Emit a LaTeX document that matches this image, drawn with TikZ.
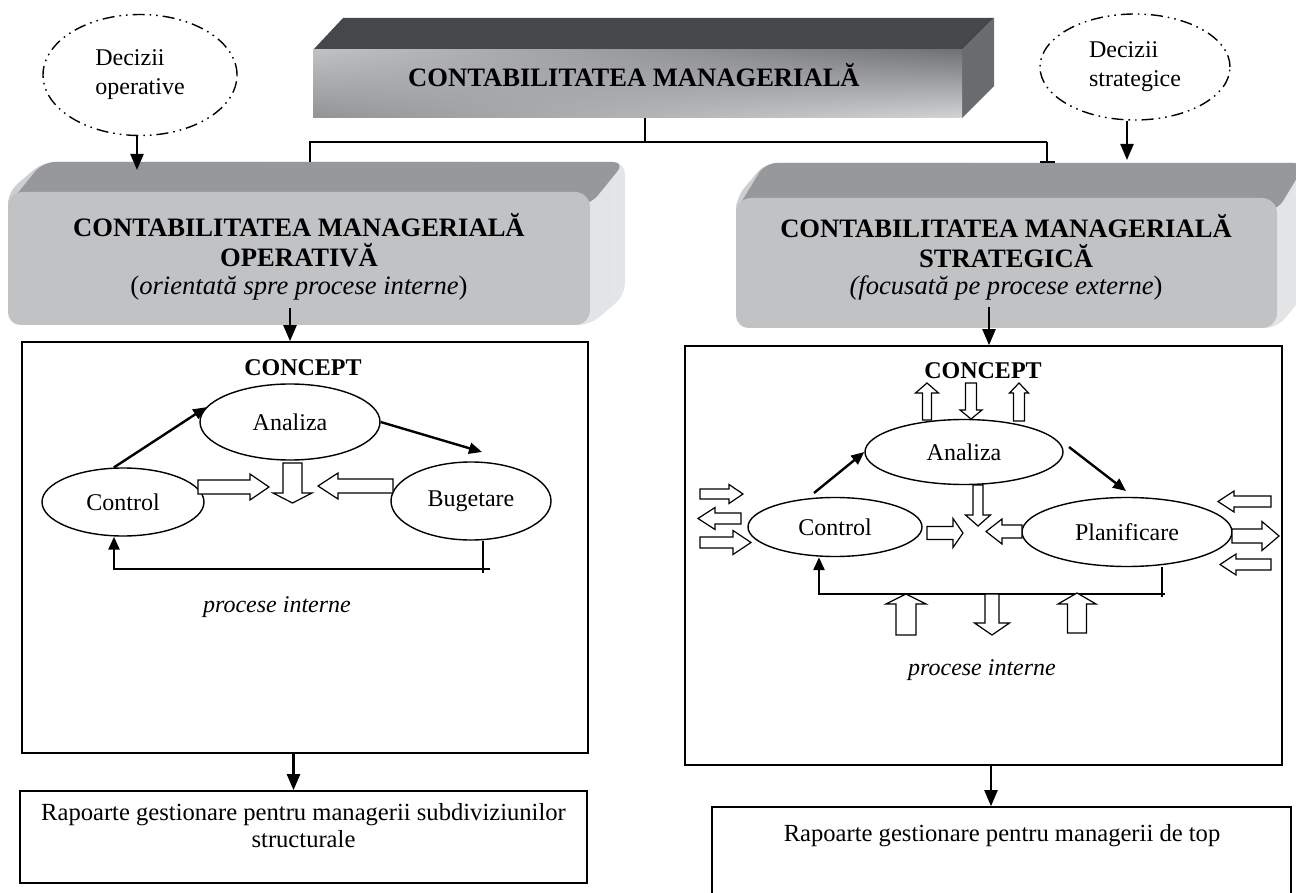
\documentclass[tikz,border=0pt]{standalone}
\usepackage{fontspec}
\setmainfont{Liberation Serif}
\usetikzlibrary{arrows.meta,shapes.geometric,shadings}
\definecolor{btop}{HTML}{46474A}
\definecolor{bside}{HTML}{6A6B6E}
\definecolor{bUL}{HTML}{C0C1C3}
\definecolor{bUR}{HTML}{707174}
\definecolor{bLL}{HTML}{929395}
\definecolor{bLR}{HTML}{D3D4D6}
\definecolor{gtop}{HTML}{97989B}
\definecolor{gfront}{HTML}{C1C2C4}
\definecolor{gsideA}{HTML}{CDCED0}
\definecolor{gsideB}{HTML}{E4E5E7}
% horizontal hollow arrow: tail x, tip x, centre y, shaft half, head half, head base x
\newcommand\hollowH[6]{\draw[hollowarr] (#1,{#3-#4}) -- (#6,{#3-#4}) -- (#6,{#3-#5}) -- (#2,#3) -- (#6,{#3+#5}) -- (#6,{#3+#4}) -- (#1,{#3+#4}) -- cycle;}
% vertical hollow arrow: centre x, tail y, tip y, shaft half, head half, head base y
\newcommand\hollowV[6]{\draw[hollowarr] ({#1-#4},#2) -- ({#1-#4},#6) -- ({#1-#5},#6) -- (#1,#3) -- ({#1+#5},#6) -- ({#1+#4},#6) -- ({#1+#4},#2) -- cycle;}
\begin{document}
\begin{tikzpicture}[x=0.5pt,y=-0.5pt,
  conn/.style={line width=1.1pt},
  arrbig/.style={line width=1.1pt,-{Triangle[length=8pt,width=6.5pt]}},
  arrsm/.style={line width=1.2pt,-{Triangle[length=6.5pt,width=5.5pt]}},
  fb/.style={line width=1.3pt},
  fbarr/.style={line width=1.3pt,-{Triangle[length=6.5pt,width=5.5pt]}},
  hollowarr/.style={draw,fill=white,line width=0.6pt,line join=miter},
  ell/.style={ellipse,draw,fill=white,line width=0.7pt,inner sep=0pt,font=\fontsize{12}{14}\selectfont},
  decell/.style={ellipse,draw,line width=0.7pt,dash pattern=on 6pt off 2.5pt on 0.8pt off 2.5pt on 0.8pt off 2.5pt,align=left,inner sep=0pt,font=\fontsize{12}{14.5}\selectfont},
  framebox/.style={draw,line width=0.8pt,inner sep=0pt},
  ghost/.style={inner sep=0pt},
  txt/.style={inner sep=0pt,font=\fontsize{12.3}{14.5}\selectfont},
  txtit/.style={inner sep=0pt,font=\fontsize{12}{14}\selectfont\itshape},
  hdr/.style={inner sep=0pt,font=\fontsize{13.3}{15}\selectfont\bfseries},
  hdrit/.style={inner sep=0pt,font=\fontsize{13.3}{15}\selectfont},
  cpt/.style={inner sep=0pt,font=\fontsize{12}{14}\selectfont\bfseries}
]
\useasboundingbox (0,0) rectangle (1296,893);
\clip (0,0) rectangle (1296,893);
\fill[white] (0,0) rectangle (1296,893);

% ---------- banner ----------
\fill[btop] (313,50) -- (343,18) -- (994,18) -- (962,50) -- cycle;
\fill[bside] (962,50) -- (994,18) -- (994,86) -- (962,118) -- cycle;
\shade[upper left=bUL,upper right=bUR,lower left=bLL,lower right=bLR] (313,50) rectangle (962,118);
\node[ghost,minimum width=324.5pt,minimum height=34pt] (banner) at (637.5,84) {};
\node[hdr,anchor=base] (bannertxt) at (634,87) {CONTABILITATEA MANAGERIALĂ};

% ---------- left grey box ----------
\shade[left color=gsideA,right color=gsideB,rounded corners=6pt] (8,192) -- (43,162) -- (625,162) -- (625,295) -- (590,325) -- (8,325) -- cycle;
\fill[gtop,rounded corners=6pt] (8,205) -- (43,162) -- (625,162) -- (590,205) -- cycle;
\fill[gfront,rounded corners=7.5pt] (8,192) rectangle (590,325);
\node[ghost,minimum width=291pt,minimum height=66.5pt] (opbox) at (299,258.5) {};
\node[hdr,anchor=base] (op1) at (299,237) {CONTABILITATEA MANAGERIALĂ};
\node[hdr,anchor=base] (op2) at (299,267) {OPERATIVĂ};
\node[hdrit,anchor=base] (op3) at (299,295) {(\textit{orientată spre procese interne})};

% ---------- right grey box ----------
\shade[left color=gsideA,right color=gsideB,rounded corners=6pt] (736,198) -- (765,163) -- (1306,163) -- (1306,293) -- (1277,328) -- (736,328) -- cycle;
\fill[gtop,rounded corners=6pt] (736,211) -- (765,163) -- (1306,163) -- (1277,211) -- cycle;
\fill[gfront,rounded corners=7.5pt] (736,198) rectangle (1277,328);
\node[ghost,minimum width=270.5pt,minimum height=65pt] (strbox) at (1006.5,263) {};
\node[hdr,anchor=base] (st1) at (1006,238) {CONTABILITATEA MANAGERIALĂ};
\node[hdr,anchor=base] (st2) at (1006,268) {STRATEGICĂ};
\node[hdrit,anchor=base] (st3) at (1006,295) {\textit{(focusată pe procese externe})};

% ---------- decision ellipses ----------
\node[decell,minimum width=97pt,minimum height=60.5pt] (decop) at (140,75) {Decizii\\operative};
\node[decell,minimum width=95pt,minimum height=53pt] (decstr) at (1135,67) {Decizii\\strategice};

% ---------- top connectors ----------
\coordinate (jn) at (645,142);
\coordinate (jl) at (310,142);
\coordinate (jr) at (1047,142);
\coordinate (opTop) at (310,162);
\coordinate (stTop) at (1047,163);
\draw[conn] (banner.south -| jn) -- (jn);
\draw[conn] (opTop) -- (jl) -- (jr);
\draw[conn,-{Bar[width=7.5pt,line width=1pt]}] (jr) -- (stTop);
\coordinate (dOp) at (137,170);
\coordinate (dSt) at (1127,160);
\draw[arrbig] (decop.south -| dOp) -- (dOp);
\draw[arrbig] (decstr.south -| dSt) -- (dSt);

% ---------- concept frames ----------
\node[framebox,minimum width=283pt,minimum height=205.5pt] (conL) at (305,547.5) {};
\node[framebox,minimum width=298.5pt,minimum height=209.5pt] (conR) at (983.5,555.5) {};
\coordinate (aL) at (290,308);
\coordinate (aR) at (989,307);
\draw[arrbig] (aL) -- (conL.north -| aL);
\draw[arrbig] (aR) -- (conR.north -| aR);

% ---------- report boxes ----------
\node[framebox,minimum width=283.5pt,minimum height=46pt] (repL) at (303.5,837) {};
\node[framebox,minimum width=289.5pt,minimum height=52pt] (repR) at (1001.5,859) {};
\node[txt,anchor=base] (repL1) at (303.5,820) {Rapoarte gestionare pentru managerii subdiviziunilor};
\node[txt,anchor=base] (repL2) at (303.5,847) {structurale};
\node[txt,anchor=base] (repR1) at (1002,841) {Rapoarte gestionare pentru managerii de top};
\coordinate (bL) at (293.5,0);
\coordinate (bR) at (991,0);
\draw[arrbig] (conL.south -| bL) -- (repL.north -| bL);
\draw[arrbig] (conR.south -| bR) -- (repR.north -| bR);

% ---------- left concept ----------
\node[cpt,anchor=base] (cptL) at (303,375) {CONCEPT};
\node[ell,minimum width=90pt,minimum height=38pt] (anaL) at (290,422) {Analiza};
\node[ell,minimum width=81pt,minimum height=34pt] (ctrlL) at (123,502) {Control};
\node[ell,minimum width=80pt,minimum height=39pt] (bugL) at (471,501) {Bugetare};
\coordinate (bugIn) at (482,452);
\draw[arrsm] (ctrlL.105) -- (anaL.170);
\draw[arrsm] (anaL.0) -- (bugIn);
\hollowH{198}{269}{487}{7}{13}{250}
\hollowV{292.5}{463}{503}{9.5}{19.5}{493}
\hollowH{393}{318}{486}{7}{13}{338}
\coordinate (fbL1) at (483,573);
\coordinate (fbL0) at (490,569);
\coordinate (fbL2) at (114,569);
\draw[fb] (bugL.south -| fbL1) -- (fbL1);
\draw[fbarr] (fbL0) -- (fbL2) -- (ctrlL.south -| fbL2);
\node[txtit,anchor=base] (piL) at (277,612) {procese interne};

% ---------- right concept ----------
\node[cpt,anchor=base] (cptR) at (983,379) {CONCEPT};
\node[ell,minimum width=99pt,minimum height=32.5pt] (anaR) at (964,452) {Analiza};
\node[ell,minimum width=87pt,minimum height=29.5pt] (ctrlR) at (835,527) {Control};
\node[ell,minimum width=105pt,minimum height=34.5pt] (planR) at (1127,532) {Planificare};
\coordinate (cRout) at (814,493);
\coordinate (aRout) at (1069,447);
\coordinate (pRin) at (1126,491);
\draw[arrsm] (cRout) -- (anaR.180);
\draw[arrsm] (aRout) -- (pRin);
% arrows above Analiza
\hollowV{927}{420}{383}{4.5}{11.5}{393}
\hollowV{971}{383}{419}{5.5}{11}{410}
\hollowV{1019}{421}{383}{5.5}{9.5}{393}
% centre
\hollowV{978}{485}{526}{5}{12.5}{515}
\hollowH{927}{963}{533}{6.5}{14.5}{953}
\hollowH{1022}{986}{531.5}{6.5}{12.5}{1002}
% left side
\hollowH{700}{743}{494}{5}{9.5}{729}
\hollowH{741}{698}{518.5}{5.5}{11}{715}
\hollowH{700}{751}{542.5}{5.5}{12}{733}
% right side
\hollowH{1271}{1218}{501.5}{5.5}{10.5}{1234}
\hollowH{1232}{1279}{536}{7}{14.5}{1262}
\hollowH{1271}{1220}{564.5}{5.5}{10.5}{1236}
% feedback
\coordinate (fbR1) at (1162,597);
\coordinate (fbR0) at (1165,594);
\coordinate (fbR2) at (819,594);
\draw[fb] (planR.south -| fbR1) -- (fbR1);
\draw[fbarr] (fbR0) -- (fbR2) -- (ctrlR.south -| fbR2);
% bottom arrows
\hollowV{906}{635}{594}{10}{20}{604}
\hollowV{992}{594}{635}{7}{17.5}{623}
\hollowV{1077}{633}{593}{9.5}{19}{604}
\node[txtit,anchor=base] (piR) at (982,675) {procese interne};
\end{tikzpicture}
\end{document}
